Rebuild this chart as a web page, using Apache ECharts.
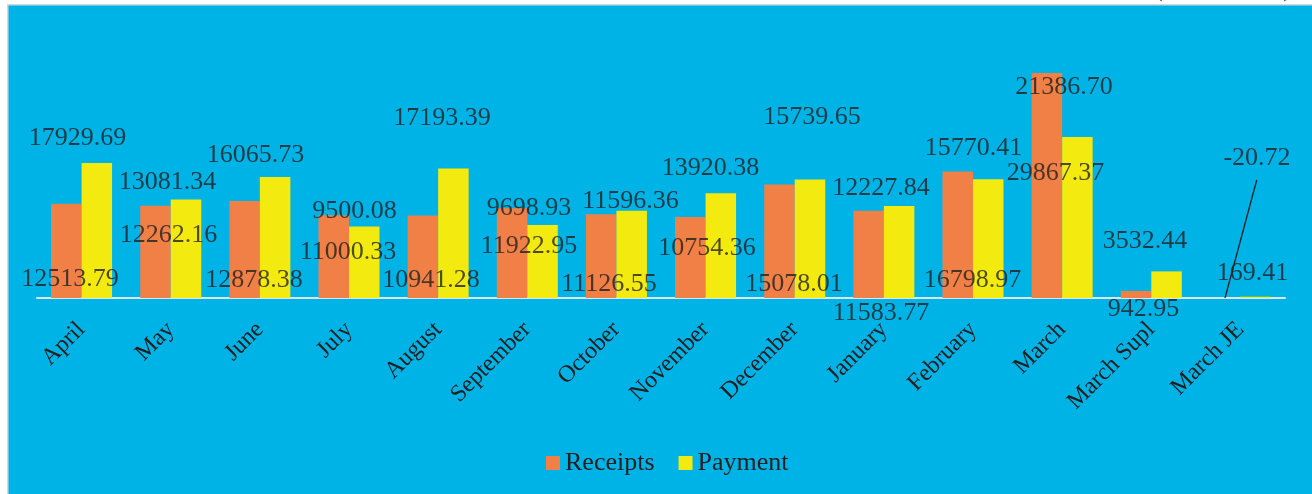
<!DOCTYPE html>
<html>
<head>
<meta charset="utf-8">
<script src="https://cdn.jsdelivr.net/npm/echarts@6/dist/echarts.min.js"></script>
<style>
  html, body { margin: 0; padding: 0; background: #fff; }
  #main { width: 1312px; height: 494px; }
</style>
</head>
<body>
<div id="main"></div>
<script>
var months = ['April', 'May', 'June', 'July', 'August', 'September', 'October', 'November',
  'December', 'January', 'February', 'March', 'March Supl', 'March JE'];
var receipts = [12513.79, 12262.16, 12878.38, 11000.33, 10941.28, 11922.95, 11126.55,
  10754.36, 15078.01, 11583.77, 16798.97, 29867.37, 942.95, -20.72];
var payment = [17929.69, 13081.34, 16065.73, 9500.08, 17193.39, 9698.93, 11596.36,
  13920.38, 15739.65, 12227.84, 15770.41, 21386.70, 3532.44, 169.41];

// where the printed value labels sit, as [category index, value]
var receiptsLabelAt = [[-0.13, 2720], [0.975, 8630], [1.934, 2590], [2.989, 6370], [3.92, 2590],
  [5.019, 7170], [5.917, 2120], [7.016, 6900], [7.992, 2060], [8.968, -1730], [9.994, 2590],
  [10.926, 16790], [11.913, -1200], [13.186, 18780]];
var paymentLabelAt = [[-0.046, 21500], [0.964, 15660], [1.951, 19250], [3.062, 11810], [4.043, 24090],
  [5.019, 12150], [6.158, 13140], [7.055, 17520], [8.194, 24290], [8.968, 14870], [10.006, 20180],
  [11.021, 28270], [11.93, 7830], [13.136, 3580]];
var leaderLine = [[13.183, 15660], [12.827, 0]];

var serif = "'Liberation Serif', 'Times New Roman', serif";
var ink = '#231f20';

function labelData(spots, values) {
  return spots.map(function (p, i) {
    return { value: p, label: { formatter: values[i].toFixed(2) } };
  });
}

var myChart = echarts.init(document.getElementById('main'));
var option = {
  backgroundColor: '#ffffff',
  textStyle: { fontFamily: serif },
  graphic: [
    {
      type: 'text', left: 1154, top: -24, z: -20,
      style: { text: '(Rs. in crore)', font: '26px ' + serif, fill: '#333' }
    },
    {
      type: 'rect', left: 7, top: 4, z: -10, silent: true,
      shape: { width: 1310, height: 495 },
      style: { fill: '#00b3e6', stroke: '#d4d8db', lineWidth: 1.5 }
    }
  ],
  legend: {
    data: ['Receipts', 'Payment'],
    left: 541,
    top: 445,
    icon: 'rect',
    itemWidth: 14,
    itemHeight: 14,
    itemGap: 24,
    textStyle: { color: ink, fontSize: 26, fontFamily: serif }
  },
  grid: { left: 37, right: 27, top: 72, bottom: 196, containLabel: false },
  xAxis: [
    {
      type: 'category',
      data: months,
      z: 2,
      axisLine: { lineStyle: { color: '#dce6ee', width: 2 } },
      axisTick: { show: false },
      axisLabel: { rotate: 45, margin: 28, color: ink, fontSize: 24, fontFamily: serif, interval: 0 }
    },
    { type: 'value', min: -0.5, max: 13.5, show: false }
  ],
  yAxis: { type: 'value', min: 0, max: 30000, show: false },
  series: [
    {
      name: 'Receipts', type: 'bar', data: receipts,
      barWidth: 30.5, barGap: '0%', itemStyle: { color: '#f08046' }, z: 3
    },
    {
      name: 'Payment', type: 'bar', data: payment,
      barWidth: 30.5, barGap: '0%', itemStyle: { color: '#f3ea0f' }, z: 3
    },
    {
      type: 'scatter', xAxisIndex: 1, symbolSize: 0, clip: false, silent: true, z: 5,
      data: labelData(receiptsLabelAt, receipts),
      label: { show: true, position: 'inside', offset: [0, 2], color: ink, fontSize: 26, fontFamily: serif }
    },
    {
      type: 'scatter', xAxisIndex: 1, symbolSize: 0, clip: false, silent: true, z: 5,
      data: labelData(paymentLabelAt, payment),
      label: { show: true, position: 'inside', offset: [0, 2], color: ink, fontSize: 26, fontFamily: serif }
    },
    {
      type: 'line', xAxisIndex: 1, data: leaderLine, symbol: 'none', silent: true, z: 5,
      lineStyle: { color: ink, width: 1.3 }
    }
  ]
};
myChart.setOption(option);
</script>
</body>
</html>
